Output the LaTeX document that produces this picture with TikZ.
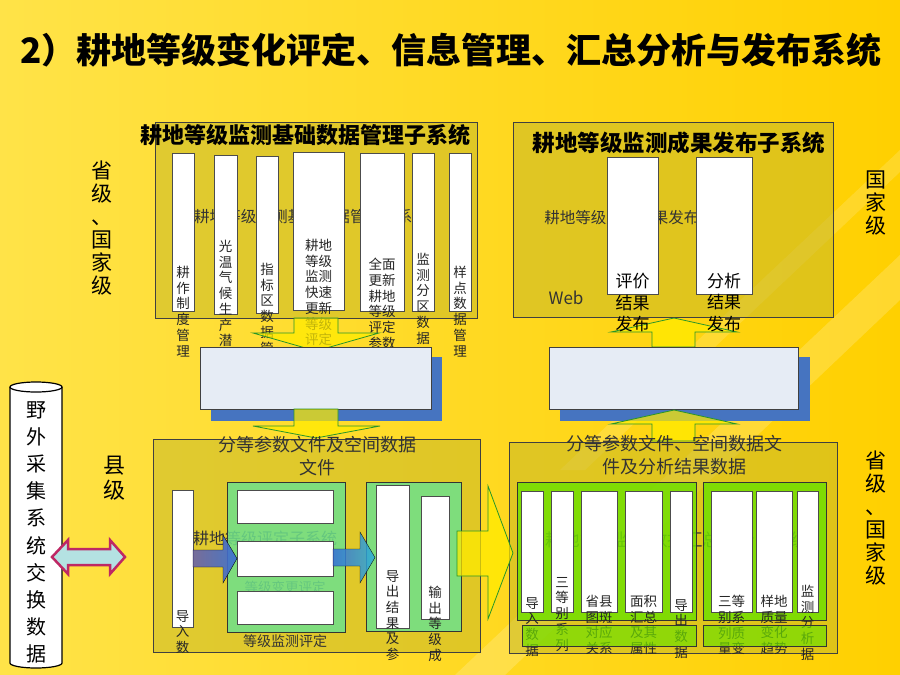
\documentclass[tikz,border=0pt]{standalone}
\usepackage{fontspec}
\setmainfont{Noto Sans CJK SC}
\usetikzlibrary{calc}
\definecolor{bgA}{RGB}{255,227,72}
\definecolor{bgB}{RGB}{255,208,0}
\definecolor{olivep}{RGB}{200,185,40}
\definecolor{mintg}{RGB}{110,225,140}
\definecolor{limeg}{RGB}{112,224,0}
\definecolor{shadowb}{RGB}{70,116,192}
\definecolor{paleb}{RGB}{230,236,245}
\definecolor{arrowy}{RGB}{255,236,0}
\definecolor{arrowg}{RGB}{40,150,40}
\definecolor{dblpink}{RGB}{190,40,100}
\definecolor{dblcyan}{RGB}{180,226,226}
\definecolor{purpb}{RGB}{108,100,165}
\definecolor{blueb}{RGB}{55,110,215}
\definecolor{cyanb}{RGB}{45,175,215}

\begin{document}
\begin{tikzpicture}[x=1pt,y=-1pt,
    panel/.style={draw=black!75,line width=0.8pt,fill=olivep,fill opacity=0.55},
    col/.style={draw=black!70,line width=0.8pt,fill=white},
    gbox/.style={draw=black!80,line width=0.8pt,fill=#1,fill opacity=0.85},
    midbox/.style={draw=black!75,line width=0.8pt,fill=paleb},
    yarrow/.style={draw=arrowg,line width=0.8pt,fill=arrowy,fill opacity=0.72},
    vt/.style={align=center,inner sep=0pt,anchor=north,text=black!85,font=\fontsize{13.5}{15.7}\selectfont},
    vtr/.style={align=center,inner sep=0pt,anchor=north,font=\fontsize{17}{21.5}\selectfont},
    lab/.style={align=center,inner sep=0pt,anchor=north,font=\fontsize{21}{23}\selectfont},
    head/.style={font=\bfseries\fontsize{#1}{#1}\selectfont},
    faint/.style={text=black!80,font=\fontsize{#1}{#1}\selectfont}]
  \useasboundingbox (0,0) rectangle (900,675);
  \shade[left color=bgA,right color=bgB] (0,0) rectangle (900,675);
  \fill[white,opacity=0.18] (455,675) -- (900,255) -- (900,300) -- (505,675) -- cycle;
  \fill[white,opacity=0.15] (560,470) -- (900,150) -- (900,172) -- (585,470) -- cycle;

  \node[head=35] (title) at (451,50) {2）耕地等级变化评定、信息管理、汇总分析与发布系统};

  \draw[panel] (155,122) rectangle (477,318);
  \node[faint=15.6] (tlbg) at (311,217) {耕地等级监测基础数据管理子系统};
  \draw[col] (172,153) rectangle (194,311);
  \draw[col] (214,155) rectangle (237,314);
  \draw[col] (256,156) rectangle (278,313);
  \draw[col] (293,152) rectangle (344,310);
  \draw[col] (360,153) rectangle (404,311);
  \draw[col] (412,153) rectangle (434,311);
  \draw[col] (449,153) rectangle (471,311);
  \node[vt] (t1) at (183,266) {耕\\作\\制\\度\\管\\理};
  \node[vt] (t2) at (225.5,240) {光\\温\\气\\候\\生\\产\\潜};
  \node[vt] (t3) at (267,263) {指\\标\\区\\数\\据\\管};
  \node[vt] (t4) at (318.5,239) {耕地\\等级\\监测\\快速\\更新\\等级\\评定};
  \node[vt] (t5) at (382,258) {全面\\更新\\耕地\\等级\\评定\\参数};
  \node[vt] (t6) at (423,253) {监\\测\\分\\区\\数\\据};
  \node[vt] (t7) at (460,266) {样\\点\\数\\据\\管\\理};
  \node[head=22] (tlhead) at (305,135) {耕地等级监测基础数据管理子系统};
  \draw[yarrow] (294,318) -- (338,318) -- (338,333) -- (379,333) -- (316,351) -- (253,333) -- (294,333) -- cycle;

  \fill[shadowb] (211,357) rectangle (442,421);
  \draw[midbox] (200,347) rectangle (431,409);
  \draw[yarrow] (294,409) -- (338,409) -- (338,426) -- (380,426) -- (316,438) -- (253,426) -- (294,426) -- cycle;

  \draw[panel] (513,122) rectangle (833,317);
  \node[faint=15.5] (trbg) at (645,218) {耕地等级监测成果发布子系统};
  \draw[col] (607,157) rectangle (658,294);
  \draw[col] (696,157) rectangle (752,294);
  \node[faint=17] (web) at (566,298) {Web};
  \node[head=22.5] (trhead) at (679,143) {耕地等级监测成果发布子系统};
  \draw[yarrow] (652,347) -- (695,347) -- (695,332) -- (737,332) -- (674,318) -- (611,332) -- (652,332) -- cycle;
  \node[vtr] (r1) at (632.5,273) {评价\\结果\\发布};
  \node[vtr] (r2) at (724,273) {分析\\结果\\发布};

  \fill[shadowb] (560,357) rectangle (810,421);
  \draw[midbox] (549,347) rectangle (798,409);
  \draw[yarrow] (652,441) -- (695,441) -- (695,424) -- (737,424) -- (674,410) -- (611,424) -- (652,424) -- cycle;

  \draw[panel] (153,439) rectangle (480,652);
  \node[align=center,text=black!80,font=\fontsize{18}{23}\selectfont] (blhead) at (317,456) {分等参数文件及空间数据\\文件};
  \node[faint=16,anchor=west,inner sep=0pt] (blbg) at (193,538) {耕地等级评定子系统};
  \node[faint=13.5] (bgchg) at (285,587) {等级变更评定};
  \draw[col] (172,490) rectangle (193,627);
  \node[vt] (b1) at (182.5,610) {导\\入\\数};
  \draw[gbox=mintg] (227,482) rectangle (345,632);
  \draw[col] (237,490) rectangle (333,523);
  \draw[col] (237,541) rectangle (333,576);
  \draw[col] (237,591) rectangle (333,624);
  \node[faint=14] (bgmon) at (285,641) {等级监测评定};
  \draw[left color=purpb,right color=blueb,opacity=0.9] (193,550) -- (223,550) -- (223,535) -- (237,558.5) -- (223,583) -- (223,567) -- (193,567) -- cycle;
  \draw[gbox=mintg] (366,482) rectangle (461,631);
  \draw[col] (376,485) rectangle (409,628);
  \draw[col] (421,496) rectangle (449,619);
  \node[vt] (b2) at (392.5,570) {导\\出\\结\\果\\及\\参};
  \node[vt] (b3) at (435,586) {输\\出\\等\\级\\成};
  \draw[left color=blueb,right color=cyanb,opacity=0.85] (333,549) -- (360,549) -- (360,532) -- (375,557.5) -- (360,583) -- (360,566) -- (333,566) -- cycle;

  \draw[panel] (509,442) rectangle (837,653);
  \node[align=center,text=black!80,font=\fontsize{18}{23}\selectfont] (brhead) at (674,455.5) {分等参数文件、空间数据文\\件及分析结果数据};
  \node[faint=17.5,anchor=west,inner sep=0pt] (brbg) at (545,540) {耕地等级监测数据汇总分析子系统};
  \draw[gbox=limeg] (517,482) rectangle (696,620);
  \draw[gbox=limeg] (703,482) rectangle (826,620);
  \draw[col] (521,491) rectangle (543,612);
  \draw[col] (551,491) rectangle (573,612);
  \draw[col] (581,491) rectangle (617,612);
  \draw[col] (625,491) rectangle (662,612);
  \draw[col] (670,491) rectangle (692,612);
  \draw[col] (711,491) rectangle (752,612);
  \draw[col] (756,491) rectangle (792,612);
  \draw[col] (797,491) rectangle (818,612);
  \node[vt] (s1) at (532,597) {导\\入\\数\\据};
  \node[vt] (s2) at (562,577) {三\\等\\别\\系\\列};
  \node[vt] (s3) at (599,595) {省县\\图斑\\对应\\关系};
  \node[vt] (s4) at (643.5,595) {面积\\汇总\\及其\\属性};
  \node[vt] (s5) at (681,599) {导\\出\\数\\据};
  \node[vt] (s6) at (731.5,595) {三等\\别系\\列质\\量变};
  \node[vt] (s7) at (774,595) {样地\\质量\\变化\\趋势};
  \node[vt] (s8) at (807.5,585) {监\\测\\分\\析\\据};
  \draw[gbox=limeg,fill opacity=0.7] (522,625) rectangle (696,646);
  \draw[gbox=limeg,fill opacity=0.7] (703,625) rectangle (826,646);

  \draw[yarrow] (457,531) -- (488,531) -- (488,486) -- (513,553) -- (488,619) -- (488,576) -- (457,576) -- cycle;

  \node[lab] (lv1) at (102,161) {省\\级\\、\\国\\家\\级};
  \node[lab] (lv2) at (876,171) {国\\家\\级};
  \node[lab] (lv3) at (876,451) {省\\级\\、\\国\\家\\级};
  \node[lab,font=\fontsize{22}{25}\selectfont] (lv4) at (114,456) {县\\级};

  \draw[line width=1.2pt,fill=white] (10,387) -- (10,663) arc (180:360:26pt and 5pt) -- (62,387);
  \draw[line width=1.2pt,fill=white] (36,387) ellipse [x radius=26pt,y radius=5pt];
  \node[align=center,inner sep=0pt,anchor=north,font=\fontsize{20}{27.2}\selectfont] (cyl) at (36,401) {野\\外\\采\\集\\系\\统\\交\\换\\数\\据};
  \draw[line width=2.5pt,draw=dblpink,fill=dblcyan] (52,557) -- (68,540) -- (68,549) -- (110,549) -- (110,540) -- (125,557) -- (110,574) -- (110,565) -- (68,565) -- (68,574) -- cycle;
\end{tikzpicture}
\end{document}
